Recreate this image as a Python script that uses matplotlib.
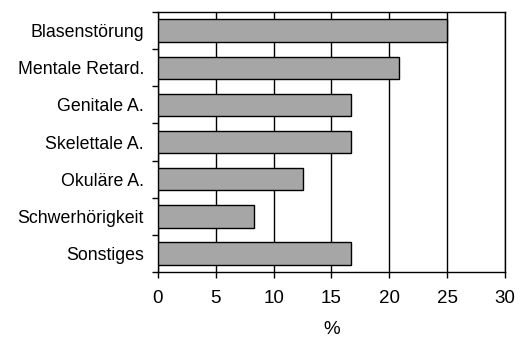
import matplotlib.pyplot as plt

# data
categories = ['Blasenstörung', 'Mentale Retard.', 'Genitale A.', 'Skelettale A.',
              'Okuläre A.', 'Schwerhörigkeit', 'Sonstiges']
values = [25.0, 20.83, 16.67, 16.67, 12.5, 8.33, 16.67]
xticks = [0, 5, 10, 15, 20, 25, 30]

plt.rcParams['font.family'] = ['Liberation Sans', 'DejaVu Sans']

fig = plt.figure(figsize=(5.23, 3.38), dpi=100)
ax = fig.add_axes([0.302, 0.195, 0.6636, 0.7695])

ypos = list(range(len(categories)))
ax.barh(ypos, values, height=0.6, color='#a6a6a6', edgecolor='black',
        linewidth=1, zorder=3)

ax.set_ylim(len(categories) - 0.5, -0.5)
ax.set_xlim(0, 30)
ax.set_xticks(xticks)
ax.set_xticklabels([str(t) for t in xticks], fontsize=13.5)

# ticks between categories, labels centered
ax.set_yticks([i + 0.5 for i in range(-1, len(categories))])
ax.set_yticklabels([])
ax.set_yticks(ypos, minor=True)
ax.set_yticklabels(categories, minor=True, fontsize=12.8)
ax.tick_params(axis='y', which='minor', length=0, pad=10)
ax.tick_params(axis='y', which='major', length=4, width=1, direction='out')
ax.tick_params(axis='x', length=4, width=1, direction='out', pad=9)

ax.grid(True, axis='x', color='black', linewidth=1, zorder=0)
ax.set_axisbelow(True)
for s in ax.spines.values():
    s.set_linewidth(1)

ax.set_xlabel('%', fontsize=13.5, labelpad=10)

plt.savefig('out.png', dpi=100)
